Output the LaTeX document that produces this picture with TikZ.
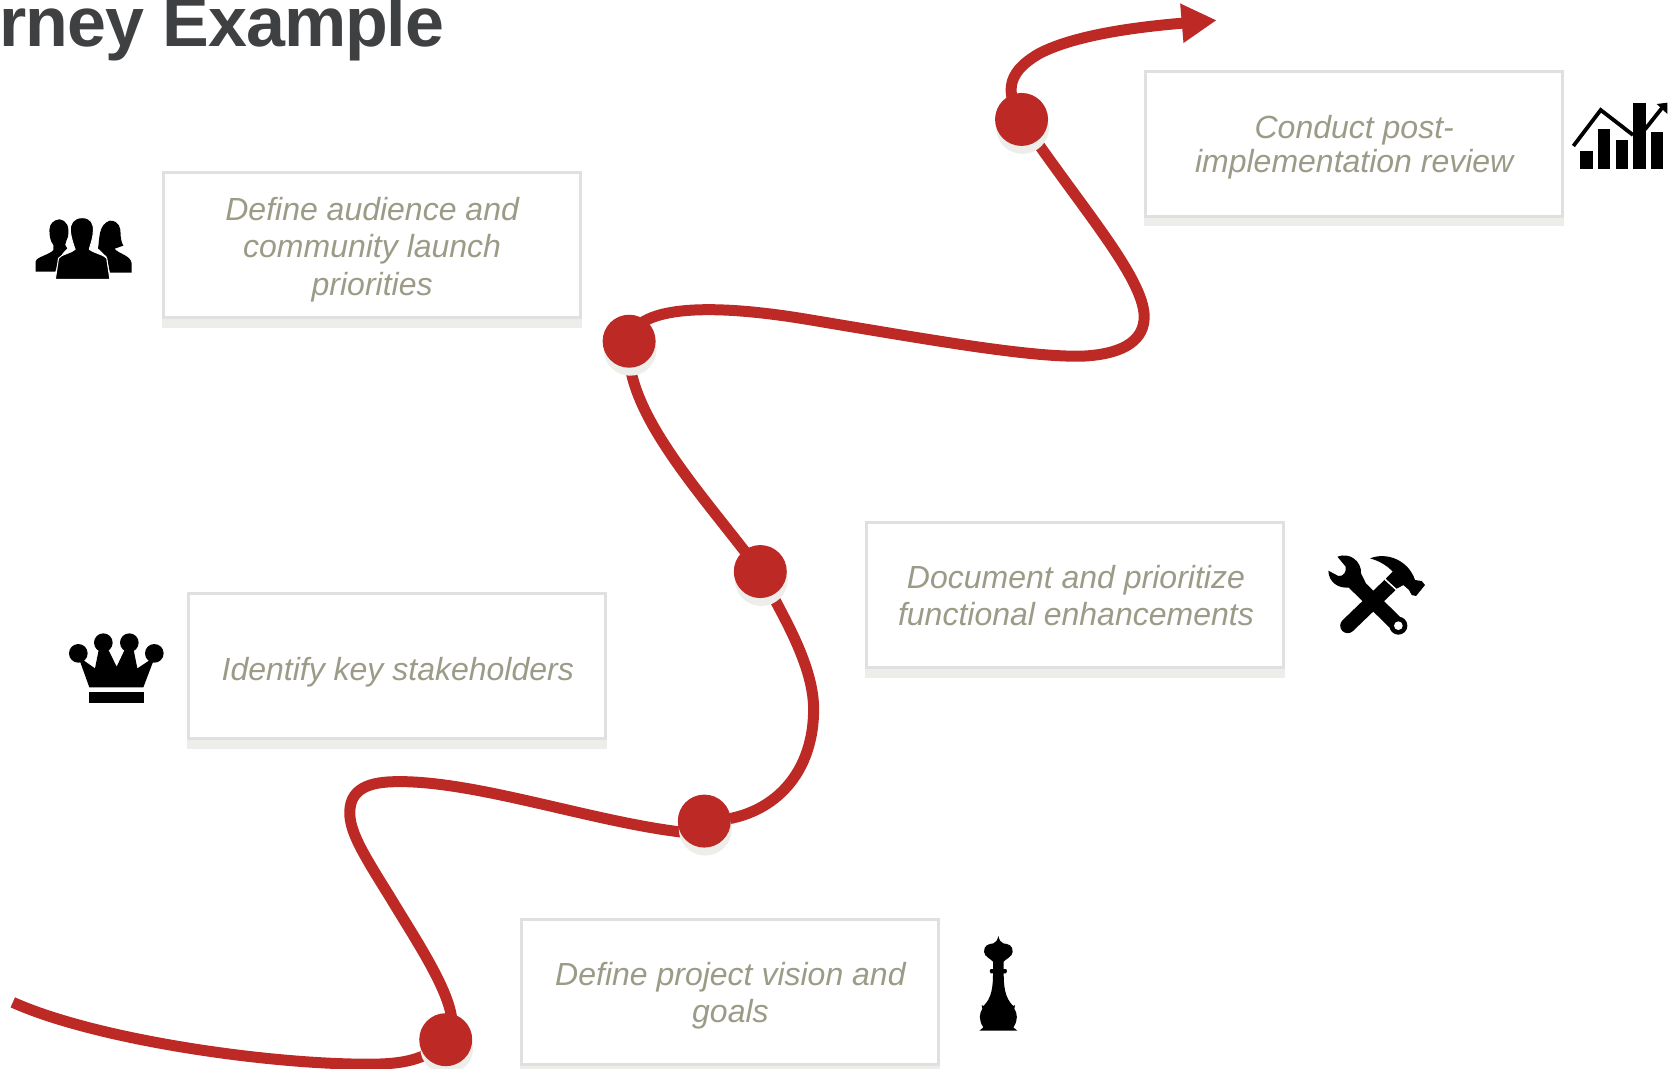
\documentclass[tikz,border=0pt]{standalone}
\usepackage{fontspec}
\setmainfont{Liberation Sans}
\newfontfamily\titlefont[LetterSpace=-1.5]{Liberation Sans}
\usetikzlibrary{backgrounds,arrows.meta}
\definecolor{roadred}{HTML}{BD2A26}
\definecolor{labelgrey}{HTML}{9C9B87}
\definecolor{boxedge}{HTML}{E0E0E0}
\definecolor{shadowgrey}{HTML}{EDEDE9}
\definecolor{titlegrey}{HTML}{3F4042}
\tikzset{
  stepbox/.style={draw=boxedge,line width=3pt,fill=white,minimum width=417pt,minimum height=145pt,inner sep=0pt,
    preaction={fill=shadowgrey,draw=shadowgrey,transform canvas={yshift=-8.5pt}}},
  steplabel/.style={inner sep=0pt,align=center,text=labelgrey,font=\fontsize{32}{37.4}\selectfont\itshape},
  milestone/.style={circle,fill=roadred,minimum size=53pt,inner sep=0pt,
    preaction={fill=shadowgrey,transform canvas={xshift=1pt,yshift=-8pt}}},
  road/.style={draw=roadred,line width=11pt},
  iconfill/.style={fill=black,draw=none},
}
\begin{document}
\begin{tikzpicture}[x=1.0663pt,y=-1.0663pt]
\path[clip,use as bounding box] (0,0) rectangle (1568,1001.6);
\node[anchor=base east,text=titlegrey,font=\fontsize{70}{74}\selectfont\titlefont\bfseries] (title) at (420,44) {Journey Example};
% boxes
\node[stepbox] (b1) at (348.5,230) {};
\node[stepbox] (b2) at (1269.5,135) {};
\node[stepbox] (b3) at (1008.5,558) {};
\node[stepbox] (b4) at (372.5,625) {};
\node[stepbox] (b5) at (684.5,930.5) {};
\node[steplabel] (t1) at (349,234) {Define audience and\\community launch\\priorities};
\node[steplabel] (t2) at (1270,138) {Conduct post-\\[-3pt]implementation review};
\node[steplabel] (t3) at (1009,558.5) {Document and prioritize\\functional enhancements};
\node[steplabel] (t4) at (373,630) {Identify key stakeholders};
\node[steplabel] (t5) at (685,934) {Define project vision and\\goals};
% milestones
\node[milestone] (n1) at (418,975) {};
\node[milestone] (n2) at (660.5,770) {};
\node[milestone] (n3) at (713,536) {};
\node[milestone] (n4) at (590,320) {};
\node[milestone] (n5) at (958,112) {};
\coordinate (start) at (12,940);
\coordinate (tip) at (1141,19);
\begin{pgfonlayer}{background}
\draw[road] (start) .. controls (90,975) and (250,998) .. (345,998) .. controls (375,998) and (400,995) .. (n1.center);
\draw[road] (n1.center) .. controls (440,955) and (395,890) .. (365,840) .. controls (340,800) and (328,780) .. (328,762) .. controls (328,735) and (355,733) .. (375,733) .. controls (450,733) and (560,772) .. (645,781) -- (n2.center);
\draw[road] (n2.center) .. controls (720,770) and (763,730) .. (763,665) .. controls (763,620) and (728,568) .. (n3.center);
\draw[road] (n3.center) .. controls (660,465) and (583,385) .. (n4.center);
\draw[road] (n4.center) .. controls (595,288) and (660,283) .. (760,300) .. controls (880,320) and (965,335) .. (1015,334) .. controls (1057,332) and (1073,317) .. (1073,297) .. controls (1073,260) and (1010,190) .. (n5.center);
\draw[road,-{Triangle[length=35pt,width=37pt]}] (n5.center) .. controls (945,90) and (940,70) .. (975,50) .. controls (1010,32) and (1070,25) .. (tip);
\end{pgfonlayer}
% people icon
\begin{scope}[shift={(0pt,-150pt)},x=.3953pt,y=-.3333pt]
\fill[iconfill] (150,208) .. controls (170,212) and (176,230) .. (172,260) .. controls (170,270) and (165,275) .. (165,285) -- (170,295) .. controls (160,305) and (150,320) .. (140,365) -- (90,365) -- (90,335) .. controls (92,320) and (125,315) .. (135,300) -- (135,285) .. controls (128,275) and (125,260) .. (125,240) .. controls (125,222) and (135,210) .. (150,208) -- cycle;
\fill[iconfill] (278,212) .. controls (302,212) and (305,235) .. (305,250) .. controls (305,265) and (308,280) .. (312,287) -- (290,296) .. controls (300,312) and (330,315) .. (333,340) -- (333,368) -- (278,368) -- (270,320) -- (248,295) .. controls (252,270) and (248,222) .. (278,212) -- cycle;
\filldraw[black,draw=white,line width=1pt] (208,203) .. controls (230,203) and (238,220) .. (236,245) .. controls (235,270) and (228,285) .. (226,298) .. controls (240,310) and (265,315) .. (270,325) -- (278,388) -- (140,388) -- (148,325) .. controls (155,312) and (180,310) .. (190,298) .. controls (186,285) and (180,265) .. (178,245) .. controls (176,220) and (186,203) .. (208,203) -- cycle;
\end{scope}
% chart icon
\begin{scope}[shift={(1560pt,-90pt)},x=.3333pt,y=-.3333pt]
\fill[iconfill] (60,183) rectangle (98,238);
\fill[iconfill] (115,117) rectangle (150,238);
\fill[iconfill] (167,150) rectangle (203,238);
\fill[iconfill] (219,40) rectangle (258,238);
\fill[iconfill] (272,127) rectangle (308,238);
\draw[black,line width=3.8pt] (40,168) -- (122,60) -- (219,135);
\draw[black,line width=3.8pt] (255,118) -- (305,55);
\fill[iconfill] (290,42) -- (322,38) -- (322,72) -- cycle;
\end{scope}
% tools icon
\begin{scope}[shift={(1300pt,-530pt)},x=.3333pt,y=-.3333pt]
\draw[black,line width=15pt] (155,150) -- (295,287);
\fill[iconfill] (295,287) circle[radius=27];
\fill[white] (295,287) circle[radius=13];
\fill[iconfill] (112,80) .. controls (150,65) and (185,95) .. (183,130) -- (200,165) -- (170,190) -- (150,172) .. controls (115,178) and (85,155) .. (85,122) -- (115,138) .. controls (130,140) and (140,125) .. (137,110) -- cycle;
\draw[black,line width=15pt,line cap=round] (143,287) -- (270,165);
\fill[iconfill] (210,85) .. controls (260,65) and (325,90) .. (345,150) -- (365,153) -- (375,165) -- (348,198) -- (335,195) -- (327,180) -- (310,165) -- (292,175) -- (258,145) -- (278,125) .. controls (260,105) and (235,92) .. (210,85) -- cycle;
\draw[white,line width=1.5pt] (255,148) -- (290,180);
\end{scope}
% crown icon
\begin{scope}[shift={(50pt,-620pt)},x=.3333pt,y=-.3333pt]
\fill[iconfill] (160,68) circle[radius=28] (238,68) circle[radius=28] (85,100) circle[radius=28] (313,100) circle[radius=28];
\fill[iconfill] (118,202) -- (85,110) -- (135,145) -- (147,85) -- (173,85) -- (200,140) -- (226,85) -- (250,85) -- (262,145) -- (315,110) -- (280,202) -- cycle;
\fill[iconfill] (117,215) rectangle (282,250);
\end{scope}
% queen icon
\begin{scope}[shift={(960pt,-920pt)},x=.3333pt,y=-.3333pt]
\fill[iconfill] (115,48) .. controls (118,60) and (122,68) .. (130,70) .. controls (145,72) and (158,75) .. (158,95) .. controls (158,110) and (135,118) .. (131,125) -- (131,147) -- (138,147) -- (141,153) -- (138,160) -- (131,160) .. controls (131,200) and (135,235) .. (160,258) -- (165,255) -- (163,266) .. controls (172,280) and (175,300) .. (160,322) -- (172,332) -- (58,332) -- (70,322) .. controls (55,300) and (58,280) .. (67,266) -- (65,255) -- (70,258) .. controls (95,235) and (99,200) .. (99,160) -- (92,160) -- (89,153) -- (92,147) -- (99,147) -- (99,125) .. controls (95,118) and (72,110) .. (72,95) .. controls (72,75) and (85,72) .. (100,70) .. controls (108,68) and (112,60) .. (115,48) -- cycle;
\end{scope}
\end{tikzpicture}
\end{document}
